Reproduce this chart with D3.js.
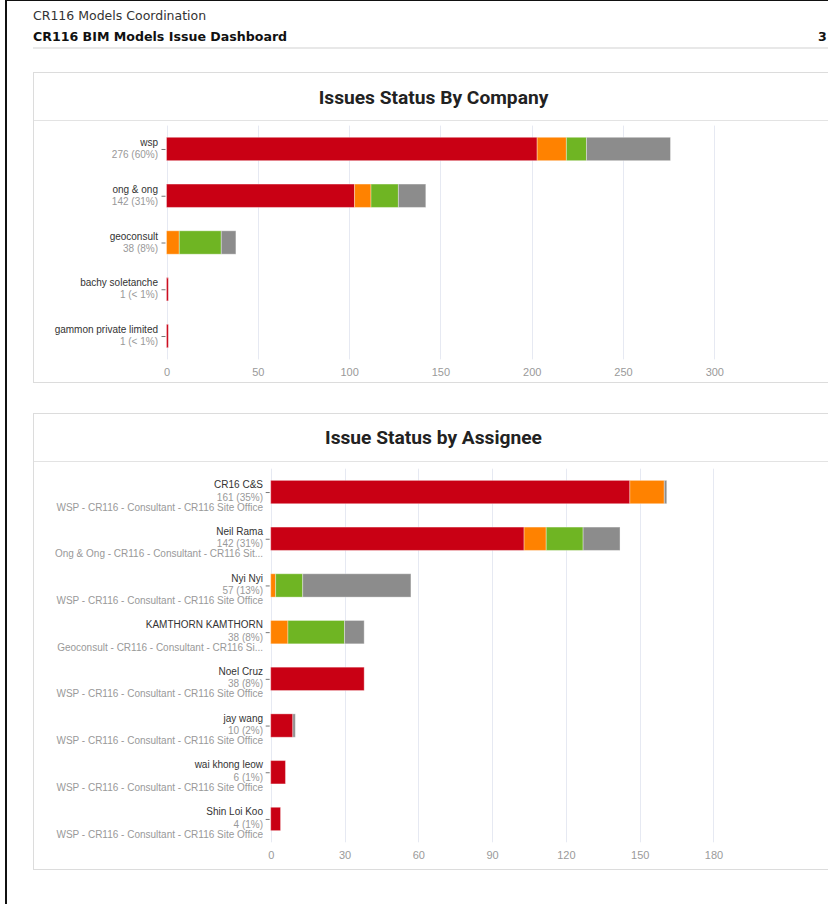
<!DOCTYPE html>
<html>
<head>
<meta charset="utf-8">
<script src="https://cdn.jsdelivr.net/npm/d3@7"></script>
<style>
  html, body { margin: 0; padding: 0; background: #fff; }
  svg { display: block; }
</style>
</head>
<body>
<svg id="chart" width="828" height="904"></svg>
<script>
// ---------- DATA ----------
const statusNames = ["Open", "In Progress", "Resolved", "Closed"];
const statusColors = ["#c90014", "#ff8200", "#6fb523", "#8c8c8c"];

const companies = ["wsp", "ong & ong", "geoconsult", "bachy soletanche", "gammon private limited"];
const companyCounts = ["276 (60%)", "142 (31%)", "38 (8%)", "1 (< 1%)", "1 (< 1%)"];
const companyOpen = [203, 103, 0, 1, 1];
const companyInProgress = [16, 9, 7, 0, 0];
const companyResolved = [11, 15, 23, 0, 0];
const companyClosed = [46, 15, 8, 0, 0];
const companyTicks = [0, 50, 100, 150, 200, 250, 300];

const assignees = ["CR16 C&S", "Neil Rama", "Nyi Nyi", "KAMTHORN KAMTHORN", "Noel Cruz", "jay wang", "wai khong leow", "Shin Loi Koo"];
const assigneeCounts = ["161 (35%)", "142 (31%)", "57 (13%)", "38 (8%)", "38 (8%)", "10 (2%)", "6 (1%)", "4 (1%)"];
const assigneeOrgs = [
  "WSP - CR116 - Consultant - CR116 Site Office",
  "Ong & Ong - CR116 - Consultant - CR116 Sit...",
  "WSP - CR116 - Consultant - CR116 Site Office",
  "Geoconsult - CR116 - Consultant - CR116 Si...",
  "WSP - CR116 - Consultant - CR116 Site Office",
  "WSP - CR116 - Consultant - CR116 Site Office",
  "WSP - CR116 - Consultant - CR116 Site Office",
  "WSP - CR116 - Consultant - CR116 Site Office"
];
const assigneeOpen = [146, 103, 0, 0, 38, 9, 6, 4];
const assigneeInProgress = [14, 9, 2, 7, 0, 0, 0, 0];
const assigneeResolved = [0, 15, 11, 23, 0, 0, 0, 0];
const assigneeClosed = [1, 15, 44, 8, 0, 1, 0, 0];
const assigneeTicks = [0, 30, 60, 90, 120, 150, 180];

// ---------- DRAW ----------
const svg = d3.select("#chart");

// page frame
svg.append("line").attr("x1", 6).attr("x2", 6).attr("y1", 0).attr("y2", 904)
  .attr("stroke", "#111").attr("stroke-width", 2);
svg.append("line").attr("x1", 6).attr("x2", 828).attr("y1", 0.5).attr("y2", 0.5)
  .attr("stroke", "#111").attr("stroke-width", 1);

// header
svg.append("text").attr("x", 33).attr("y", 20)
  .attr("font-family", "DejaVu Sans").attr("font-size", 12.5).attr("fill", "#333")
  .text("CR116 Models Coordination");
svg.append("text").attr("x", 33).attr("y", 41)
  .attr("font-family", "DejaVu Sans").attr("font-weight", "bold").attr("font-size", 12.6).attr("fill", "#111")
  .text("CR116 BIM Models Issue Dashboard");
svg.append("text").attr("x", 818).attr("y", 41)
  .attr("font-family", "DejaVu Sans").attr("font-weight", "bold").attr("font-size", 12.6).attr("fill", "#111")
  .text("3");
svg.append("rect").attr("x", 33).attr("y", 47).attr("width", 800).attr("height", 2).attr("fill", "#e8e8e8");

function panel(cfg) {
  const g = svg.append("g");
  g.append("rect").attr("x", 33.5).attr("y", cfg.top + 0.5).attr("width", 800).attr("height", cfg.bottom - cfg.top)
    .attr("fill", "#fff").attr("stroke", "#dcdcdc");
  g.append("line").attr("x1", 34).attr("x2", 833).attr("y1", cfg.sep + 0.5).attr("y2", cfg.sep + 0.5)
    .attr("stroke", "#e3e3e3");
  g.append("text").attr("x", 433.5).attr("y", cfg.titleY)
    .attr("text-anchor", "middle").attr("dominant-baseline", "middle")
    .attr("font-family", "Roboto").attr("font-weight", 700).attr("font-size", 19.2).attr("fill", "#222")
    .text(cfg.title);

  const x = d3.scaleLinear().domain([0, cfg.xMax]).range([cfg.x0, cfg.x0 + cfg.xMax * cfg.pxPerUnit]);
  const y = d3.scaleBand().domain(cfg.cats).range([cfg.y0, cfg.y1]).paddingInner(0.5).paddingOuter(0.25);

  // grid
  g.append("g").selectAll("line").data(cfg.ticks).join("line")
    .attr("x1", d => Math.round(x(d)) + 0.5).attr("x2", d => Math.round(x(d)) + 0.5)
    .attr("y1", cfg.y0).attr("y2", cfg.y1)
    .attr("stroke", "#e6e9f2");

  // x axis labels
  const xAxis = d3.axisBottom(x).tickValues(cfg.ticks).tickSize(0).tickPadding(0);
  const ax = g.append("g").attr("transform", `translate(0,${cfg.axisY})`).call(xAxis);
  ax.select(".domain").remove();
  ax.selectAll("text").attr("font-family", "Liberation Sans, Arial").attr("font-size", 11)
    .attr("fill", "#9a9a9a").attr("dy", "0.32em").attr("y", 0);

  // stacked bars
  const rows = cfg.cats.map((c, i) => {
    const o = { cat: c };
    statusNames.forEach((s, k) => o[s] = cfg.series[k][i]);
    return o;
  });
  const stack = d3.stack().keys(statusNames)(rows);
  g.append("g").selectAll("g").data(stack).join("g")
    .attr("fill", (d, k) => statusColors[k])
    .selectAll("rect").data(d => d).join("rect")
    .filter(d => d[1] - d[0] > 0)
    .attr("x", d => x(d[0])).attr("width", d => x(d[1]) - x(d[0]))
    .attr("y", d => y(d.data.cat)).attr("height", y.bandwidth())
    .attr("stroke", "rgba(255,255,255,0.35)").attr("stroke-width", 1);

  // y labels
  const lab = g.append("g");
  cfg.cats.forEach((c, i) => {
    const cy = y(c) + y.bandwidth() / 2;
    lab.append("line").attr("x1", cfg.x0 - 5).attr("x2", cfg.x0 - 1).attr("y1", cy + 0.5).attr("y2", cy + 0.5)
      .attr("stroke", "#777");
    const lines = cfg.labelLines(i);
    lines.forEach(l => {
      lab.append("text").attr("x", cfg.labelX).attr("y", cy + l.dy)
        .attr("text-anchor", "end").attr("dominant-baseline", "middle")
        .attr("font-family", "Liberation Sans, Arial").attr("font-size", cfg.labelSize)
        .attr("fill", l.color).text(l.text);
    });
  });
}

panel({
  top: 72, bottom: 382, sep: 120, titleY: 98.5, title: "Issues Status By Company",
  cats: companies, series: [companyOpen, companyInProgress, companyResolved, companyClosed],
  ticks: companyTicks, xMax: 340, x0: 166.5, pxPerUnit: 1.826,
  y0: 125.6, y1: 359.4,
  axisY: 372, labelX: 158, labelSize: 10,
  labelLines: i => [
    { text: companies[i], dy: -5.5, color: "#333" },
    { text: companyCounts[i], dy: 6.5, color: "#999" }
  ]
});

panel({
  top: 413, bottom: 869, sep: 461, titleY: 438.5, title: "Issue Status by Assignee",
  cats: assignees, series: [assigneeOpen, assigneeInProgress, assigneeResolved, assigneeClosed],
  ticks: assigneeTicks, xMax: 210, x0: 270.7, pxPerUnit: 2.46,
  y0: 468.7, y1: 842.3,
  axisY: 855, labelX: 263, labelSize: 10,
  labelLines: i => [
    { text: assignees[i], dy: -6.5, color: "#333" },
    { text: assigneeCounts[i], dy: 6, color: "#999" },
    { text: assigneeOrgs[i], dy: 16, color: "#999" }
  ]
});
</script>
</body>
</html>
